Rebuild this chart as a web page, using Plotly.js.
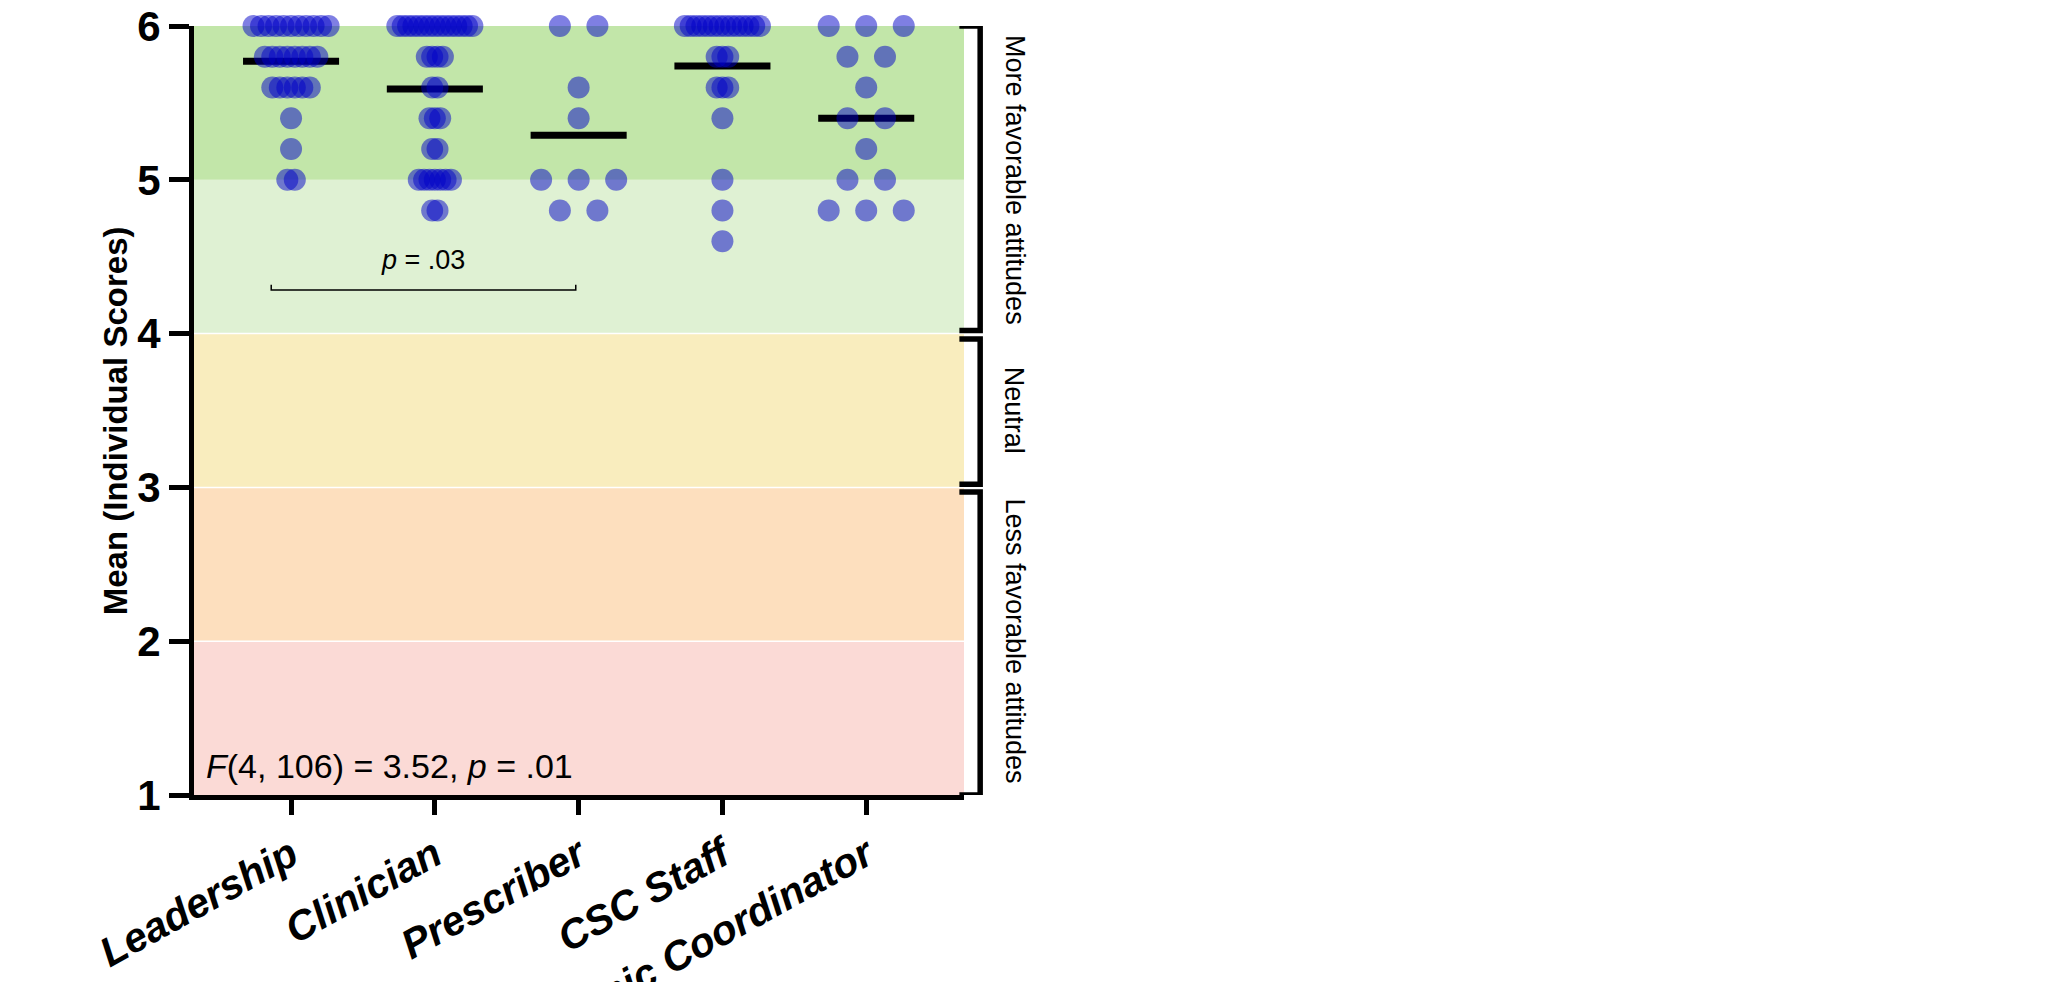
<!DOCTYPE html>
<html>
<head>
<meta charset="utf-8">
<script src="https://cdn.plot.ly/plotly-3.0.1.min.js"></script>
<style>html,body{margin:0;padding:0;background:#fff;}#chart{width:2054px;height:982px;}</style>
</head>
<body>
<div id="chart"></div>
<script>
// ---- data ----
const groupNames = ['Leadership', 'Clinician', 'Prescriber', 'CSC Staff', 'Clinic Coordinator'];
const scoreLevels = [6.0, 5.8, 5.6, 5.4, 5.2, 5.0, 4.8, 4.6];
const leadershipCounts  = [11, 8, 6, 1, 1, 2, 0, 0];
const clinicianCounts   = [15, 4, 2, 3, 2, 7, 2, 0];
const prescriberCounts  = [2, 0, 1, 1, 0, 3, 2, 0];
const cscStaffCounts    = [14, 3, 3, 1, 0, 1, 1, 1];
const coordinatorCounts = [3, 2, 1, 2, 1, 2, 3, 0];
const groupMeans = [5.77, 5.59, 5.29, 5.74, 5.40];
const bandEdges = [1, 2, 3, 4, 5, 6];
const yTicks = [1, 2, 3, 4, 5, 6];
const yTitle = 'Mean (Individual Scores)';
const anovaText = '<i>F</i>(4, 106) = 3.52, <i>p</i> = .01';
const pairText = '<i>p</i> = .03';
const pairGroups = [0, 2];
const zoneLabels = ['More favorable attitudes', 'Neutral', 'Less favorable attitudes'];
const zoneRanges = [[4, 6], [3, 4], [1, 3]];

// ---- styles ----
const FONT = 'Liberation Sans, Arial, Helvetica, sans-serif';
const bandColors = ['#FBDAD6', '#FDDFBE', '#F9EDBE', '#DFF1D3', '#C2E6A9'];
const dotColor = 'rgba(0,0,200,0.5)';
const halfSpread = 0.261;   // max half-width of a row of dots (category units)
const meanHalf = 0.334;     // half-width of mean bar

const allCounts = [leadershipCounts, clinicianCounts, prescriberCounts, cscStaffCounts, coordinatorCounts];

const traces = [];
groupMeans.forEach((m, i) => {
  traces.push({
    x: [i - meanHalf, i + meanHalf], y: [m, m],
    mode: 'lines', type: 'scatter', cliponaxis: false,
    line: {color: 'black', width: 7}, hoverinfo: 'skip'
  });
});
const dx = [], dy = [];
allCounts.forEach((counts, gi) => {
  const maxC = Math.max(...counts);
  const step = maxC > 1 ? (2 * halfSpread) / (maxC - 1) : 0;
  counts.forEach((n, li) => {
    for (let j = 0; j < n; j++) {
      dx.push(gi + (j - (n - 1) / 2) * step);
      dy.push(scoreLevels[li]);
    }
  });
});
traces.push({
  x: dx, y: dy, mode: 'markers', type: 'scatter', cliponaxis: false,
  marker: {size: 22, color: dotColor, line: {width: 0}}, hoverinfo: 'skip'
});

const shapes = [];
for (let k = 0; k < bandEdges.length - 1; k++) {
  shapes.push({type: 'rect', xref: 'paper', yref: 'y', x0: 0, x1: 1,
    y0: bandEdges[k], y1: bandEdges[k + 1], fillcolor: bandColors[k],
    line: {width: 0}, layer: 'below'});
}
[2, 3, 4].forEach(v => shapes.push({type: 'line', xref: 'paper', yref: 'y', x0: 0, x1: 1,
  y0: v, y1: v, line: {color: 'white', width: 1.5}, layer: 'below'}));

const armX = 0.994, vX = 1.021;
const gaps = [[0, 0.02], [0.035, 0.02], [0.03, 0]];
zoneRanges.forEach((r, i) => {
  const top = r[1] - gaps[i][0], bot = r[0] + gaps[i][1];
  shapes.push({type: 'path', xref: 'paper', yref: 'y',
    path: `M ${armX},${top} L ${vX},${top} L ${vX},${bot} L ${armX},${bot}`,
    line: {color: 'black', width: 5.5}});
});
const pb0 = pairGroups[0] - 0.138, pb1 = pairGroups[1] - 0.02, pY = 4.283, pT = 0.035;
shapes.push({type: 'path', xref: 'x', yref: 'y',
  path: `M ${pb0},${pY + pT} L ${pb0},${pY} L ${pb1},${pY} L ${pb1},${pY + pT}`,
  line: {color: 'black', width: 1.5}});

const annotations = [
  {text: anovaText, xref: 'x', yref: 'y', x: -0.605, y: 1.19, xanchor: 'left', yanchor: 'middle',
   showarrow: false, font: {family: FONT, size: 34, color: 'black'}},
  {text: pairText, xref: 'x', yref: 'y', x: (pb0 + pb1) / 2, y: 4.48, xanchor: 'center', yanchor: 'middle',
   showarrow: false, font: {family: FONT, size: 27, color: 'black'}},
  {text: yTitle, xref: 'paper', yref: 'y', x: 0, xshift: -79, y: 3.43, xanchor: 'center', yanchor: 'middle',
   textangle: -90, showarrow: false, font: {family: FONT, size: 33, weight: 'bold', color: 'black'}}
];
zoneRanges.forEach((r, i) => {
  annotations.push({text: zoneLabels[i], xref: 'paper', yref: 'y', x: 1.066, y: (r[0] + r[1]) / 2,
    xanchor: 'center', yanchor: 'middle', textangle: 90, showarrow: false,
    font: {family: FONT, size: 27, color: 'black'}});
});

const layout = {
  width: 2054, height: 982,
  margin: {l: 194, r: 1090, t: 26, b: 187, pad: 0},
  paper_bgcolor: 'white', plot_bgcolor: 'white',
  showlegend: false,
  font: {family: FONT, color: 'black'},
  xaxis: {
    range: [-0.675, 4.68], tickvals: groupNames.map((_, i) => i), ticktext: groupNames,
    tickangle: -29, ticks: 'outside', ticklen: 15, tickwidth: 5, tickcolor: 'black',
    showline: true, linewidth: 5, linecolor: 'black', showgrid: false, zeroline: false,
    tickfont: {family: FONT, size: 41, weight: 'bold', style: 'italic', color: 'black'}
  },
  yaxis: {
    range: [1, 6], tickvals: yTicks, ticks: 'outside', ticklen: 20, tickwidth: 5, tickcolor: 'black',
    showline: true, linewidth: 5, linecolor: 'black', showgrid: false, zeroline: false,
    tickfont: {family: FONT, size: 42, weight: 'bold', color: 'black'}
  },
  shapes: shapes,
  annotations: annotations
};

Plotly.newPlot('chart', traces, layout, {staticPlot: true, displayModeBar: false});
</script>
</body>
</html>
